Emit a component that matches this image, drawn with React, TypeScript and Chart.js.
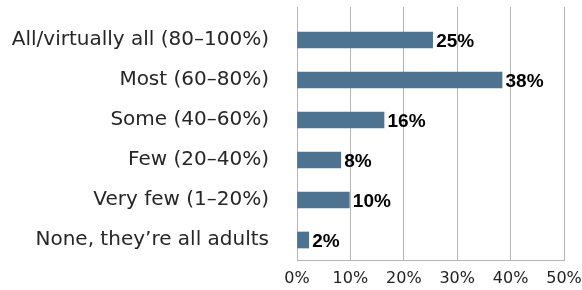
import React, { useEffect, useRef } from "react";
import { Chart, registerables } from "chart.js";

Chart.register(...registerables);

const categories = [
  "All/virtually all (80–100%)",
  "Most (60–80%)",
  "Some (40–60%)",
  "Few (20–40%)",
  "Very few (1–20%)",
  "None, they’re all adults",
];
const values = [25.4, 38.4, 16.3, 8.2, 9.8, 2.2];
const xTicks = [0, 10, 20, 30, 40, 50];

const GRID = "#b4b4b4";
const BAR = "#4d7391";

const valueLabels = {
  id: "valueLabels",
  afterDatasetsDraw(chart: any) {
    const ctx = chart.ctx;
    const meta = chart.getDatasetMeta(0);
    ctx.save();
    ctx.font = "bold 19px 'Liberation Sans', Arial, sans-serif";
    ctx.fillStyle = "#000";
    ctx.textAlign = "left";
    ctx.textBaseline = "middle";
    meta.data.forEach((bar: any, i: number) => {
      ctx.fillText(Math.round(values[i]) + "%", bar.x + 3.5, bar.y + 2);
    });
    ctx.restore();
  },
};

export default function App() {
  const ref = useRef<HTMLCanvasElement>(null);
  useEffect(() => {
    if (!ref.current) return;
    const chart = new Chart(ref.current, {
      type: "bar",
      data: {
        labels: categories,
        datasets: [
          {
            data: values,
            backgroundColor: BAR,
            borderWidth: 0,
            barThickness: 16,
            xAxisID: "x",
          },
        ],
      },
      options: {
        indexAxis: "y",
        animation: false,
        responsive: true,
        maintainAspectRatio: false,
        layout: { padding: { top: 7, right: 18, left: 0, bottom: 0 } },
        plugins: { legend: { display: false }, tooltip: { enabled: false } },
        scales: {
          x: {
            type: "linear",
            position: "bottom",
            min: 0,
            max: 50,
            afterBuildTicks: (s: any) => {
              s.ticks = xTicks.map((v) => ({ value: v }));
            },
            afterFit: (s: any) => {
              s.height = 30;
              s.paddingLeft = 0;
              s.paddingRight = 0;
            },
            grid: { color: GRID, drawTicks: false, lineWidth: 1 },
            border: { display: true, color: GRID, width: 1 },
            ticks: {
              padding: 9,
              color: "#222",
              font: { family: "'DejaVu Sans', sans-serif", size: 16 },
              callback: (v: any) => v + "%",
            },
          },
          x2: {
            type: "linear",
            position: "top",
            min: 0,
            max: 50,
            afterBuildTicks: (s: any) => {
              s.ticks = xTicks.map((v) => ({ value: v }));
            },
            afterFit: (s: any) => {
              s.height = 13;
              s.paddingLeft = 0;
              s.paddingRight = 0;
            },
            grid: {
              color: GRID,
              drawOnChartArea: false,
              drawTicks: true,
              tickLength: 13,
            },
            border: { display: false },
            ticks: { display: false },
          },
          y: {
            type: "category",
            afterFit: (s: any) => {
              s.width = 297;
              s.paddingTop = 0;
              s.paddingBottom = 0;
            },
            grid: { display: false, drawTicks: false },
            border: { display: false },
            ticks: {
              padding: 28,
              color: "#262626",
              font: { family: "'DejaVu Sans', sans-serif", size: 20 },
            },
          },
        },
      },
      plugins: [valueLabels],
    });
    return () => chart.destroy();
  }, []);
  return (
    <div style={{ position: "absolute", left: 0, top: 0, width: 582, height: 290 }}>
      <canvas ref={ref} />
    </div>
  );
}
